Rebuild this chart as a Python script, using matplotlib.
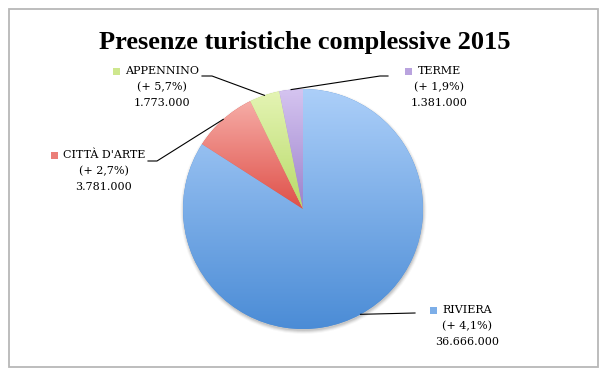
import numpy as np
import matplotlib.pyplot as plt
from matplotlib.colors import to_rgb
from matplotlib.patches import Rectangle, Circle

# data
names = ['RIVIERA', "CITTÀ D'ARTE", 'APPENNINO', 'TERME']
values = [36666000, 3781000, 1773000, 1381000]
changes = ['(+ 4,1%)', '(+ 2,7%)', '(+ 5,7%)', '(+ 1,9%)']

top_colors = ['#accff9', '#f6aca6', '#e4f4b4', '#d5c4f0']
bottom_colors = ['#4b8cd6', '#df5049', '#b8da68', '#9c82cc']

W, H = 611, 381


def py(y):
    # pixel rows from the top -> data y
    return H - y


fig = plt.figure(figsize=(W / 100, H / 100), dpi=100)
ax = fig.add_axes([0, 0, 1, 1])

cx, cy, r = 303, py(209), 120

# soft shadow under the pie
for k, a in [(3, 0.03), (2, 0.05), (1, 0.07), (0, 0.08)]:
    ax.add_patch(Circle((cx + 0.5, cy - 2), r + k, color='black', alpha=a,
                        lw=0, zorder=0.5))

wedges, _ = ax.pie(values, startangle=90, counterclock=False, center=(cx, cy),
                   radius=r, colors=bottom_colors, frame=True,
                   wedgeprops=dict(linewidth=0))

# vertical gradient fill in each slice
for w, c1, c2 in zip(wedges, top_colors, bottom_colors):
    ext = w.get_path().get_extents()
    t = np.linspace(0, 1, 256)[:, None, None]
    grad = (1 - t) * np.array(to_rgb(c1)) + t * np.array(to_rgb(c2))
    im = ax.imshow(grad, extent=(ext.x0, ext.x1, ext.y0, ext.y1), origin='upper',
                   aspect='auto', interpolation='bilinear', zorder=1.5)
    im.set_clip_path(w)

# label layout (pixel coords from top): block centre x, first line y
label_pos = [(467, 310), (104, 155), (162, 71), (439, 71)]
leader_ends = [[(415, 313)],
               [(157, 161), (148, 161)],
               [(212, 76), (202, 76)],
               [(380, 76), (388, 76)]]

name_texts = []
for i, (xc, yn) in enumerate(label_pos):
    t = ax.text(xc, py(yn), names[i], ha='center', va='center', fontsize=8,
                family='DejaVu Serif', zorder=3)
    name_texts.append(t)
    ax.text(xc, py(yn + 16.5), changes[i], ha='center', va='center', fontsize=8,
            family='DejaVu Serif', zorder=3)
    ax.text(xc, py(yn + 32), f"{values[i]:,}".replace(',', '.'), ha='center',
            va='center', fontsize=8, family='DejaVu Serif', zorder=3)

    w = wedges[i]
    mid = np.deg2rad((w.theta1 + w.theta2) / 2)
    xs = [cx + r * np.cos(mid)] + [p[0] for p in leader_ends[i]]
    ys = [cy + r * np.sin(mid)] + [py(p[1]) for p in leader_ends[i]]
    ax.plot(xs, ys, color='black', lw=0.8, zorder=3)

ax.text(305, py(43), 'Presenze turistiche complessive 2015', ha='center',
        va='center', fontsize=19, fontweight='bold', family='Liberation Serif')

ax.add_patch(Rectangle((9, py(367)), 589, 358, fill=False,
                       edgecolor='#b8b8b8', lw=1.3, zorder=4))

ax.set_xlim(0, W)
ax.set_ylim(0, H)
ax.axis('off')

# small colour squares left of each category name
fig.canvas.draw()
rend = fig.canvas.get_renderer()
inv = ax.transData.inverted()
for t, c1, c2 in zip(name_texts, top_colors, bottom_colors):
    bb = t.get_window_extent(rend)
    x0, _ = inv.transform((bb.x0, bb.y0))
    _, yc = t.get_position()
    mix = 0.5 * (np.array(to_rgb(c1)) + np.array(to_rgb(c2)))
    ax.add_patch(Rectangle((x0 - 12, yc - 3.5), 7, 7, color=mix, lw=0, zorder=3))

fig.savefig('out.png', dpi=100)
